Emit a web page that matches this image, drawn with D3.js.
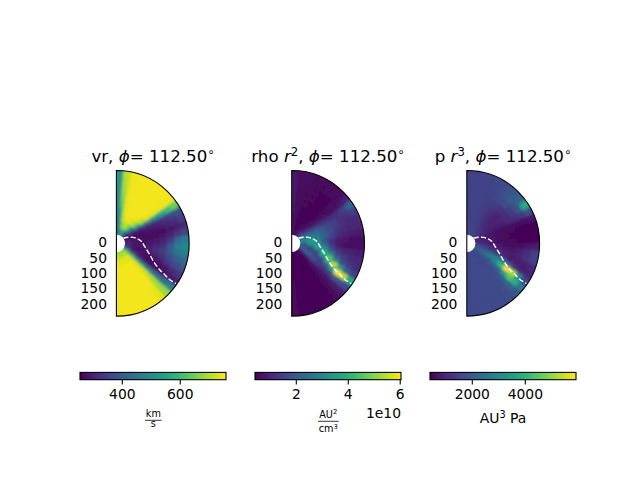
<!DOCTYPE html>
<html><head><meta charset="utf-8">
<script src="https://cdn.jsdelivr.net/npm/d3@7/dist/d3.min.js"></script>
<style>html,body{margin:0;background:#fff}svg{display:block}text{font-family:"DejaVu Sans";fill:#000}</style>
</head><body><svg id="c" width="640" height="480"></svg>
<script>
const radiusEdges=[28,51,74,97,120,143,166,189,212,237];
const rTicks=[0,50,100,150,200];
const rMax=237;
const colatStepDeg=6;
const vrRows=[
[380,420,450,470,480,490,500,510,520],
[430,480,530,580,640,670,690,700,710],
[520,640,710,735,740,745,745,745,745],
[560,690,735,750,750,750,750,750,750],
[560,700,745,750,750,750,750,750,750],
[520,680,740,750,750,750,750,750,750],
[430,620,720,745,750,750,750,750,750],
[340,500,680,735,750,750,750,750,750],
[300,400,560,680,730,740,745,745,745],
[280,300,340,400,470,520,560,600,640],
[280,280,285,295,305,320,340,360,380],
[275,275,275,280,285,295,310,320,340],
[280,275,270,270,270,272,280,290,310],
[290,280,270,270,275,285,300,330,360],
[300,280,275,280,290,300,340,420,460],
[330,290,280,285,300,320,390,470,490],
[320,280,285,300,325,350,400,450,460],
[300,270,275,290,310,330,370,400,420],
[320,285,280,270,280,300,330,360,380],
[400,310,280,270,270,272,285,310,330],
[540,420,330,290,275,270,270,285,290],
[620,600,540,500,470,450,440,450,480],
[680,710,720,720,720,700,690,680,680],
[700,735,745,750,750,750,745,740,740],
[700,740,750,750,750,750,750,750,750],
[690,735,750,750,750,750,750,750,750],
[690,735,750,750,750,750,750,750,750],
[690,735,750,750,750,750,750,750,750],
[690,735,750,750,750,750,750,750,750],
[690,735,750,750,750,750,750,750,750]];
const rhoRows=[
[.75,.75,.75,.75,.75,.75,.7,.7,.7],
[.55,.55,.55,.55,.55,.55,.55,.6,.6],
[.5,.5,.5,.5,.5,.5,.5,.55,.6],
[.5,.5,.45,.45,.5,.5,.5,.5,.55],
[.6,.5,.45,.45,.45,.5,.5,.5,.5],
[.8,.55,.45,.45,.45,.45,.45,.5,.5],
[1.1,.65,.5,.45,.45,.45,.45,.5,.5],
[1.4,.8,.6,.55,.5,.5,.5,.55,.6],
[1.8,1.2,.9,.8,.7,.65,.65,.7,.9],
[2.2,1.8,1.5,1.3,1.15,1.1,1.2,1.5,2.2],
[2.6,2.4,2.2,1.9,1.6,1.4,1.2,1.2,1.4],
[2.8,2.7,2.4,2.1,1.7,1.4,1.2,1.1,1.1],
[3.0,3.0,2.6,2.2,1.7,1.3,1.1,1.0,1.0],
[3.2,3.4,2.9,2.1,1.5,1.1,.95,.85,.8],
[2.8,3.7,3.1,1.9,1.2,.8,.7,.65,.6],
[2.0,3.3,3.6,2.3,1.3,.8,.65,.6,.65],
[1.4,2.2,3.8,3.4,1.9,1.2,1.0,.9,.85],
[1.6,1.4,2.4,4.0,2.9,1.7,1.3,1.1,1.0],
[2.2,1.4,1.6,3.6,4.6,2.8,1.7,1.3,1.1],
[2.6,2.0,1.4,1.8,4.0,5.5,3.5,2.0,1.4],
[1.6,2.6,2.0,1.3,1.9,3.4,6.0,5.5,3.8],
[.8,1.2,1.6,1.4,1.2,1.4,2.0,1.9,1.6],
[.6,.6,.7,.7,.7,.7,.8,.8,.8],
[.5,.5,.5,.5,.5,.5,.5,.5,.5],
[.45,.45,.45,.45,.45,.45,.45,.45,.45],
[.45,.45,.45,.45,.45,.45,.45,.45,.45],
[.45,.45,.45,.45,.45,.45,.45,.45,.45],
[.45,.45,.45,.45,.45,.45,.45,.45,.45],
[.45,.45,.45,.45,.45,.45,.45,.45,.45],
[.5,.5,.5,.5,.5,.5,.5,.5,.5]];
const pRows=[
[1500,1500,1500,1500,1500,1500,1500,1500,1500],
[1550,1550,1500,1500,1500,1500,1500,1500,1500],
[1600,1550,1500,1500,1500,1500,1500,1500,1500],
[1600,1500,1450,1450,1500,1500,1500,1500,1500],
[1550,1450,1400,1400,1400,1450,1500,1550,1550],
[1500,1350,1300,1250,1300,1400,1550,1600,1650],
[1500,1300,1150,1100,1150,1350,1650,1800,1800],
[1450,1200,1050,950,1000,1250,1700,1950,1950],
[1300,1150,1000,950,900,1100,1500,1850,2200],
[1200,1050,950,950,1000,1150,1350,1900,3800],
[1100,950,850,800,850,1000,1100,1300,1800],
[1000,850,750,650,650,650,650,650,700],
[950,800,700,600,550,500,470,450,450],
[950,800,700,600,520,480,450,430,430],
[1050,850,750,650,550,500,480,470,480],
[1250,1050,800,720,650,600,620,700,850],
[1500,1350,1000,800,750,750,900,1150,1450],
[1700,1500,1300,1050,900,850,950,1200,1450],
[2000,1800,1700,1500,1050,800,780,850,1000],
[2200,2400,2900,3000,2900,1900,1100,900,950],
[1900,2100,2300,3000,4200,5900,5300,3000,1500],
[1700,1700,1800,2000,2300,3500,4400,3900,2600],
[1600,1600,1600,1650,1700,1900,2100,2100,1900],
[1600,1600,1600,1600,1650,1650,1700,1700,1700],
[1650,1650,1650,1650,1650,1650,1650,1650,1650],
[1650,1650,1650,1650,1650,1650,1650,1650,1650],
[1650,1650,1650,1650,1650,1650,1650,1650,1650],
[1650,1650,1650,1650,1650,1650,1650,1650,1650],
[1650,1650,1650,1650,1650,1650,1650,1650,1650],
[1650,1650,1650,1650,1650,1650,1650,1650,1650]];
const sheetR=[28,43,58,72,82,93,115,140,165,187,209,234];
const sheetColat=[54,63,70.6,79,86,96.6,109,117.3,121.4,123,124.3,124];
const vrDomain=[254,758], rhoDomain=[.41,6.03], pDomain=[404,5913];
const vrTicks=[400,600], rhoTicks=[2,4,6], pTicks=[2000,4000];

const svg=d3.select("#c");
const defs=svg.append("defs");
defs.append("filter").attr("id","soft").attr("filterUnits","userSpaceOnUse")
  .attr("x",0).attr("y",0).attr("width",640).attr("height",480)
  .append("feGaussianBlur").attr("stdDeviation",1.5);
const cy=243.3, R=72.8;
const rScale=d3.scaleLinear().domain([0,rMax]).range([0,R]);
const rad=d=>d*Math.PI/180;
const arc=d3.arc();
const wedge=d3.arc()({innerRadius:0,outerRadius:R,startAngle:0,endAngle:Math.PI});
const sheetLine=d3.lineRadial().curve(d3.curveCatmullRom);

const panels=[
 {id:"a",cx:116.4,bar:80,rows:vrRows,dom:vrDomain,ticks:vrTicks,fmt:String},
 {id:"b",cx:291.7,bar:255,rows:rhoRows,dom:rhoDomain,ticks:rhoTicks,fmt:String},
 {id:"c",cx:466.8,bar:430,rows:pRows,dom:pDomain,ticks:pTicks,fmt:String}];

panels.forEach(p=>{
  const color=d3.scaleSequential(d3.interpolateViridis).domain(p.dom).clamp(true);
  defs.append("clipPath").attr("id","clip"+p.id).append("path").attr("d",wedge);
  const g=svg.append("g").attr("transform",`translate(${p.cx},${cy})`);
  const field=g.append("g").attr("clip-path",`url(#clip${p.id})`);
  const cells=p.rows.flatMap((row,i)=>row.map((v,j)=>({
    v,innerRadius:rScale(radiusEdges[j]),outerRadius:rScale(radiusEdges[j+1]),
    startAngle:rad(i*colatStepDeg),endAngle:rad((i+1)*colatStepDeg)})));
  const draw=(sel)=>sel.selectAll("path").data(cells).join("path")
    .attr("d",d=>arc(d)).attr("fill",d=>color(d.v)).attr("stroke",d=>color(d.v)).attr("stroke-width",.6);
  draw(field.append("g"));
  draw(field.append("g").attr("transform",`translate(${-p.cx},${-cy})`)
       .attr("filter","url(#soft)").append("g").attr("transform",`translate(${p.cx},${cy})`));
  g.append("circle").attr("r",rScale(radiusEdges[0])).attr("fill","#fff");
  g.append("path").attr("fill","none").attr("stroke","#fff").attr("stroke-width",1.39)
    .attr("stroke-dasharray","5.1,2.2")
    .attr("d",sheetLine(sheetR.map((r,i)=>[rad(sheetColat[i]),rScale(r)])));
  g.append("path").attr("d",wedge).attr("fill","none").attr("stroke","#000").attr("stroke-width",1.1);
  g.selectAll("text.r").data(rTicks).join("text").attr("class","r")
    .attr("x",-9.4).attr("y",d=>rScale(d)+4).attr("text-anchor","end")
    .attr("font-size",13.89).text(d=>d);

  // colourbar
  const bx=d3.scaleLinear().domain(p.dom).range([p.bar,p.bar+146]);
  const bar=svg.append("g");
  const steps=d3.range(256).map(i=>p.dom[0]+(p.dom[1]-p.dom[0])*i/256);
  const w=(p.dom[1]-p.dom[0])/256;
  bar.selectAll("rect").data(steps).join("rect")
    .attr("x",d=>bx(d)).attr("width",d=>bx(d+w)-bx(d)+.4).attr("y",372.4).attr("height",7.3)
    .attr("fill",d=>color(d+w/2)).attr("shape-rendering","crispEdges");
  bar.append("rect").attr("x",p.bar).attr("y",372.4).attr("width",146).attr("height",7.3)
    .attr("fill","none").attr("stroke","#000").attr("stroke-width",1.1);
  const ax=svg.append("g").attr("transform","translate(0,379.7)")
    .call(d3.axisBottom(bx).offset(0).tickValues(p.ticks).tickSize(4.86).tickPadding(4.9).tickFormat(p.fmt));
  ax.select(".domain").remove();
  ax.selectAll("line").attr("stroke","#000").attr("stroke-width",1.1);
  ax.selectAll("text").attr("font-size",13.89).attr("font-family","DejaVu Sans").attr("fill","#000");
});

function title(cx,parts){
  const t=svg.append("text").attr("x",cx).attr("y",161.5).attr("text-anchor","middle").attr("font-size",16.67);
  parts.forEach(([s,o])=>{const sp=t.append("tspan").text(s);
    if(o&&o.i)sp.attr("font-style","italic");
    if(o&&o.sup)sp.attr("font-size",11.7).attr("dy",-6);
    if(o&&o.down)sp.attr("dy",6);});
}
title(153,[["vr, "],["ϕ",{i:1}],["= 112.50"],["∘",{sup:1}]]);
title(328,[["rho "],["r",{i:1}],["2",{sup:1}],[", ",{down:1}],["ϕ",{i:1}],["= 112.50"],["∘",{sup:1}]]);
title(503,[["p "],["r",{i:1}],["3",{sup:1}],[", ",{down:1}],["ϕ",{i:1}],["= 112.50"],["∘",{sup:1}]]);

function lab(x,y,s,size,anchor){return svg.append("text").attr("x",x).attr("y",y).attr("font-size",size).attr("text-anchor",anchor||"middle").text(s);}
function rule(x1,x2,y){svg.append("line").attr("x1",x1).attr("x2",x2).attr("y1",y).attr("y2",y).attr("stroke","#000").attr("stroke-width",.8);}
lab(153.3,417,"km",9.7); rule(145,161.6,420.3); lab(153.3,426.7,"s",9.7);
const au=lab(328.2,417.6,"AU",9.7); au.append("tspan").attr("font-size",6.8).attr("dy",-3.4).text("2");
rule(318,338.7,421.3);
const cm=lab(328.2,432,"cm",9.7); cm.append("tspan").attr("font-size",6.8).attr("dy",-3.4).text("3");
lab(401,418,"1e10",13.89,"end");
const pu=lab(503,423,"AU",13.89); pu.append("tspan").attr("font-size",9.7).attr("dy",-5).text("3");
pu.append("tspan").attr("dy",5).text(" Pa");
</script></body></html>
